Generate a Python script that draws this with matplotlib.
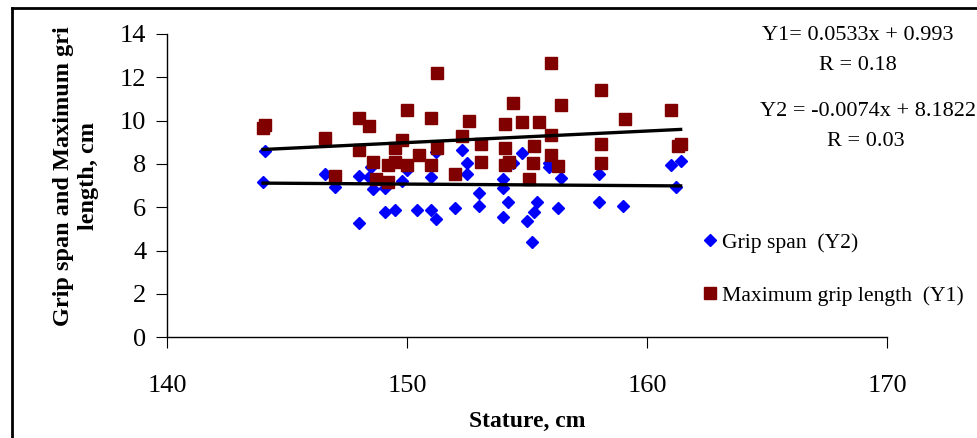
import numpy as np
import matplotlib
matplotlib.use("Agg")
import matplotlib.pyplot as plt
from matplotlib.lines import Line2D

plt.rcParams['font.family'] = ['Liberation Serif', 'DejaVu Serif']

# stature (cm) and maximum grip length (cm)
stature_max = [144.0, 144.1, 146.6, 147.0, 148.0, 148.4, 148.0, 148.6, 148.7, 149.2,
               149.2, 149.5, 149.5, 149.8, 150.0, 150.0, 151.25, 151.0, 152.6, 152.3,
               150.5, 151.25, 151.0, 152.0, 153.1, 153.1, 154.4, 154.1, 154.1, 154.1,
               154.25, 154.8, 155.5, 155.3, 155.25, 155.1, 156.0, 156.4, 156.0, 156.0,
               156.3, 158.1, 159.1, 161.0, 158.1, 158.1, 161.3, 161.4]
max_grip = [9.66, 9.80, 9.18, 7.46, 10.1, 9.75, 8.64, 8.1, 7.29, 7.18,
            7.95, 8.72, 8.1, 9.1, 10.49, 7.95, 12.21, 10.1, 10.0, 9.3,
            8.41, 8.72, 7.95, 7.55, 8.9, 8.1, 10.83, 9.86, 8.76, 7.95,
            8.08, 9.92, 9.92, 8.83, 8.06, 7.29, 12.64, 10.72, 9.34, 8.41,
            7.9, 11.41, 10.08, 10.49, 8.91, 8.06, 8.83, 8.92]

# stature (cm) and grip span (cm)
stature_span = [144.1, 144.0, 146.6, 147.0, 148.0, 148.0, 148.4, 148.6, 149.1, 149.1,
                149.5, 149.8, 150.0, 148.5, 150.4, 151.0, 151.2, 151.0, 151.2, 152.0,
                152.3, 152.5, 152.5, 153.0, 153.0, 154.0, 154.0, 154.2, 154.0, 154.8,
                154.4, 155.4, 155.3, 155.0, 155.2, 155.9, 155.9, 156.4, 156.3, 158.0,
                158.0, 159.0, 161.0, 161.4, 161.2]
grip_span = [8.6, 7.18, 7.54, 6.95, 7.44, 5.29, 7.41, 6.86, 6.88, 5.80,
             5.87, 7.22, 7.72, 7.87, 5.88, 5.88, 5.45, 7.38, 8.56, 5.98,
             8.66, 8.06, 7.54, 6.67, 6.07, 7.29, 6.89, 6.25, 5.54, 8.49,
             8.06, 6.25, 5.80, 5.37, 4.41, 7.87, 8.05, 7.37, 5.98, 7.54,
             6.25, 6.06, 7.97, 8.14, 6.95]

# fitted lines
y1_slope, y1_icpt, y1_r = 0.0533, 0.993, 0.18
y2_slope, y2_icpt, y2_r = -0.0074, 8.1822, 0.03

fig = plt.figure(figsize=(9.78, 4.38), dpi=100)
ax = fig.add_axes([0.1708, 0.2299, 0.7362, 0.6925])

ax.plot(stature_span, grip_span, linestyle='none', marker='D', ms=6.2,
        color='#0000FF', mec='#0000FF', label='Grip span  (Y2)', zorder=3)
ax.plot(stature_max, max_grip, linestyle='none', marker='s', ms=9.2,
        color='#800000', mec='#800000', label='Maximum grip length  (Y1)', zorder=4)

xs = np.array([min(stature_max), max(stature_max)])
ax.plot(xs, y1_slope * xs + y1_icpt, color='black', lw=2.4, zorder=5)
xs = np.array([min(stature_span), max(stature_span)])
ax.plot(xs, y2_slope * xs + y2_icpt, color='black', lw=2.4, zorder=5)

ax.set_xlim(140, 170)
ax.set_ylim(0, 14)
ax.set_xticks([140, 150, 160, 170])
ax.set_yticks(range(0, 15, 2))
for s in ['top', 'right']:
    ax.spines[s].set_visible(False)
for s in ['left', 'bottom']:
    ax.spines[s].set_linewidth(1.0)
ax.tick_params(axis='y', direction='out', length=8, pad=7, labelsize=19)
ax.tick_params(axis='x', direction='out', length=8, pad=19, labelsize=19)

fig.text(76 / 978, 1 - 176 / 438, 'Grip span and Maximum gri\nlength, cm',
         rotation=90, ha='center', va='center', multialignment='center',
         fontsize=17.5, fontweight='bold', linespacing=1.3)
fig.text(527 / 978, 1 - 421 / 438, 'Stature, cm', ha='center', va='center',
         fontsize=17, fontweight='bold')

fig.text(858 / 978, 1 - 35 / 438, f'Y1= {y1_slope}x + {y1_icpt}',
         ha='center', va='center', fontsize=16)
fig.text(858 / 978, 1 - 66 / 438, f'R = {y1_r}', ha='center', va='center', fontsize=16)
fig.text(868 / 978, 1 - 112 / 438, f'Y2 = {y2_slope}x + {y2_icpt}',
         ha='center', va='center', fontsize=16)
fig.text(866 / 978, 1 - 142 / 438, f'R = {y2_r:.2f}', ha='center', va='center', fontsize=16)

ax.legend(loc='upper left', bbox_to_anchor=(691 / 978, 1 - 222 / 438),
          bbox_transform=fig.transFigure, frameon=False, fontsize=15.6,
          handlelength=0.8, handletextpad=0.15, labelspacing=1.5, borderpad=0)

# outer frame (top and left edges)
fig.add_artist(Line2D([12 / 978, 12 / 978], [0, 1 - 8 / 438], color='black', lw=2,
                      transform=fig.transFigure))
fig.add_artist(Line2D([12 / 978, 1], [1 - 8 / 438, 1 - 8 / 438], color='black', lw=2,
                      transform=fig.transFigure))

fig.savefig('out.png', dpi=100)
